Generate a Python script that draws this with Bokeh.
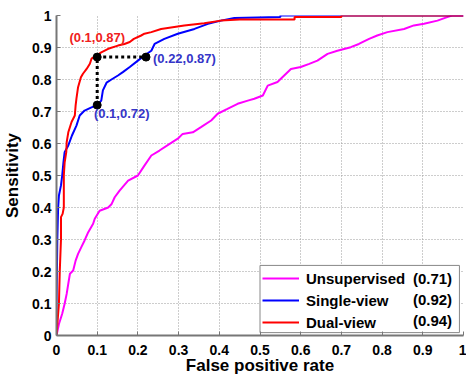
from bokeh.plotting import figure
from bokeh.models import Legend, LegendItem, FixedTicker
from bokeh.core.properties import value
from bokeh.embed import file_html
from bokeh.resources import INLINE

# ---- data ----
unsup_fpr = [0, 0.006, 0.014, 0.02, 0.025, 0.029, 0.033, 0.041, 0.047, 0.053, 0.061, 0.069, 0.078, 0.09, 0.094,
             0.106, 0.127, 0.135, 0.143, 0.155, 0.176, 0.2, 0.216, 0.233, 0.253, 0.278, 0.298, 0.31, 0.335, 0.355,
             0.38, 0.396, 0.42, 0.445, 0.47, 0.486, 0.507, 0.519, 0.543, 0.555, 0.576, 0.6, 0.621, 0.641, 0.666,
             0.69, 0.723, 0.743, 0.768, 0.788, 0.813, 0.854, 0.878, 0.903, 0.936, 0.96, 0.972, 1.0]
unsup_tpr = [0, 0.036, 0.068, 0.099, 0.13, 0.162, 0.193, 0.203, 0.234, 0.255, 0.276, 0.297, 0.323, 0.349, 0.365,
             0.39, 0.40, 0.41, 0.432, 0.453, 0.484, 0.5, 0.531, 0.5625, 0.578, 0.599, 0.615, 0.63, 0.635, 0.651,
             0.672, 0.693, 0.708, 0.724, 0.734, 0.74, 0.75, 0.781, 0.792, 0.807, 0.833, 0.839, 0.849, 0.859, 0.88,
             0.89, 0.901, 0.911, 0.927, 0.9375, 0.948, 0.958, 0.969, 0.974, 0.984, 0.995, 1.0, 1.0]

single_fpr = [0, 0, 0.002, 0.004, 0.006, 0.011, 0.014, 0.017, 0.02, 0.029, 0.038, 0.049, 0.057, 0.069, 0.086,
              0.1, 0.11, 0.114, 0.123, 0.135, 0.151, 0.163, 0.18, 0.2, 0.216, 0.233, 0.241, 0.265, 0.298, 0.339,
              0.372, 0.404, 0.437, 0.55, 0.55, 1.0]
single_tpr = [0, 0.1, 0.3, 0.4, 0.4375, 0.469, 0.5, 0.54, 0.573, 0.594, 0.625, 0.656, 0.6875, 0.703, 0.713,
              0.72, 0.734, 0.766, 0.79, 0.80, 0.8125, 0.823, 0.839, 0.859, 0.875, 0.89, 0.911, 0.927, 0.943, 0.958,
              0.974, 0.984, 0.992, 0.995, 1.0, 1.0]

dual_fpr = [0, 0.003, 0.006, 0.008, 0.011, 0.011, 0.015, 0.018, 0.018, 0.02, 0.024, 0.025, 0.029, 0.037, 0.045,
            0.047, 0.049, 0.053, 0.06, 0.065, 0.074, 0.082, 0.086, 0.098, 0.11, 0.127, 0.151, 0.167, 0.18, 0.19,
            0.208, 0.216, 0.233, 0.257, 0.314, 0.363, 0.404, 0.45, 0.585, 0.585, 0.70, 0.70, 1.0]
dual_tpr = [0, 0.05, 0.1, 0.2, 0.3, 0.37, 0.38, 0.40, 0.5, 0.54, 0.573, 0.604, 0.635, 0.667, 0.6875,
            0.719, 0.74, 0.776, 0.807, 0.818, 0.833, 0.849, 0.865, 0.875, 0.885, 0.896, 0.906, 0.911, 0.917, 0.927,
            0.9375, 0.943, 0.948, 0.958, 0.969, 0.976, 0.984, 0.9875, 0.9875, 0.995, 0.995, 1.0, 1.0]

series_names = ["Unsupervised", "Single-view", "Dual-view"]
auc_labels = ["(0.71)", "(0.92)", "(0.94)"]

# operating points
op_fpr = [0.1, 0.1, 0.22]
op_tpr = [0.72, 0.87, 0.87]
op_labels = ["(0.1,0.72)", "(0.1,0.87)", "(0.22,0.87)"]

ticks = [0, 0.1, 0.2, 0.3, 0.4, 0.5, 0.6, 0.7, 0.8, 0.9, 1]
tick_labels = ["0", "0.1", "0.2", "0.3", "0.4", "0.5", "0.6", "0.7", "0.8", "0.9", "1"]

FONT = "Liberation Sans"

p = figure(width=466, height=377, x_range=(0, 1), y_range=(0, 1),
           output_backend="svg", toolbar_location=None,
           min_border_left=55, min_border_right=3, min_border_top=15, min_border_bottom=42,
           x_axis_label="False positive rate", y_axis_label="Sensitivity")
p.outline_line_color = None
p.background_fill_color = "white"

for ax in (p.xaxis[0], p.yaxis[0]):
    ax.ticker = FixedTicker(ticks=ticks)
    ax.major_label_overrides = dict(zip(ticks, tick_labels))
    ax.major_label_text_font = FONT
    ax.major_label_text_font_style = "bold"
    ax.major_label_text_font_size = "14px"
    ax.major_label_text_color = "black"
    ax.axis_label_text_font = FONT
    ax.axis_label_text_font_style = "bold"
    ax.axis_label_text_font_size = "17px"
    ax.axis_label_text_color = "black"
    ax.axis_line_color = "#777777"
    ax.axis_line_width = 2
    ax.major_tick_in = 4
    ax.major_tick_out = 0
    ax.major_tick_line_color = "#777777"
    ax.minor_tick_line_color = None

p.xaxis[0].major_label_standoff = 9
p.xaxis[0].axis_label_standoff = -2
p.yaxis[0].major_label_standoff = 5
p.yaxis[0].axis_label_standoff = 7

p.grid.grid_line_color = "#9a9a9a"
p.grid.grid_line_dash = "1 2"
p.grid.grid_line_width = 1

r_u = p.line(unsup_fpr, unsup_tpr, line_color="#FF00FF", line_width=2)
r_s = p.line(single_fpr, single_tpr, line_color="#0000FF", line_width=2)
r_d = p.line(dual_fpr, dual_tpr, line_color="#FF0000", line_width=2)

# operating-point path
p.line(op_fpr, op_tpr, line_color="black", line_width=3, line_dash="3 3")
p.scatter(op_fpr, op_tpr, size=8, color="black")

# operating point labels
p.text(x=[op_fpr[0] - 0.008], y=[op_tpr[0] - 0.025], text=[op_labels[0]], text_color="#3535C8",
       text_font=value(FONT), text_font_style="bold", text_font_size="13px",
       text_align="left", text_baseline="middle")
p.text(x=[op_fpr[1]], y=[op_tpr[1] + 0.06], text=[op_labels[1]], text_color="#F02020",
       text_font=value(FONT), text_font_style="bold", text_font_size="13px",
       text_align="center", text_baseline="middle")
p.text(x=[op_fpr[2] + 0.017], y=[op_tpr[2] - 0.004], text=[op_labels[2]], text_color="#3535C8",
       text_font=value(FONT), text_font_style="bold", text_font_size="13px",
       text_align="left", text_baseline="middle")

# legend box (opaque white, drawn as a glyph so the AUC values can sit on top of it)
p.quad(left=[0.5], right=[0.99], bottom=[0.009], top=[0.219],
       fill_color="white", line_color="#888888", line_width=1)

# AUC values, right-aligned inside the legend box
p.text(x=[0.972] * 3, y=[0.177, 0.1125, 0.047], text=auc_labels, text_color="black",
       text_font=value(FONT), text_font_style="bold", text_font_size="15px",
       text_align="right", text_baseline="middle")

legend = Legend(items=[LegendItem(label=series_names[0], renderers=[r_u]),
                       LegendItem(label=series_names[1], renderers=[r_s]),
                       LegendItem(label=series_names[2], renderers=[r_d])],
                location=(206, 4), orientation="vertical",
                padding=3, margin=0, spacing=4,
                glyph_width=37, glyph_height=18, label_height=18, label_width=100,
                label_standoff=7,
                label_text_font=FONT, label_text_font_style="bold", label_text_font_size="15px",
                label_text_color="black",
                border_line_color=None,
                background_fill_alpha=0.0)
p.add_layout(legend, "center")

open("out.html", "w").write(file_html(p, INLINE))
